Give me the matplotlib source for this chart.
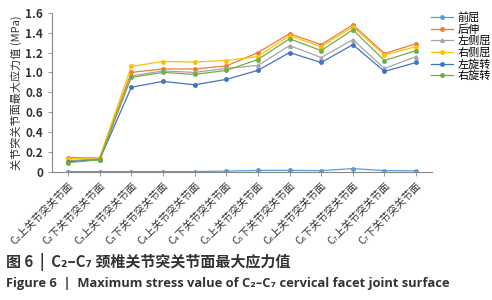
import matplotlib
matplotlib.use("Agg")
import matplotlib.pyplot as plt

plt.rcParams['font.family'] = ['Noto Sans CJK SC', 'DejaVu Sans']

# categories (facet surfaces)
levels = ["C₂", "C₂", "C₃", "C₃", "C₄", "C₄", "C₅", "C₅", "C₆", "C₆", "C₇", "C₇"]
sides = ["上", "下"] * 6
categories = [f"{c}{s}关节突关节面" for c, s in zip(levels, sides)]

# maximum stress (MPa) per motion
flexion = [0.0, 0.0, 0.0, 0.0, 0.0, 0.005, 0.012, 0.012, 0.01, 0.03, 0.01, 0.008]
extension = [0.14, 0.14, 1.00, 1.035, 1.035, 1.065, 1.20, 1.39, 1.28, 1.48, 1.19, 1.29]
left_bend = [0.11, 0.13, 0.965, 1.015, 1.00, 1.04, 1.07, 1.27, 1.15, 1.33, 1.04, 1.16]
right_bend = [0.13, 0.14, 1.06, 1.11, 1.105, 1.12, 1.16, 1.37, 1.26, 1.46, 1.175, 1.26]
left_rot = [0.10, 0.12, 0.85, 0.91, 0.875, 0.93, 1.02, 1.20, 1.10, 1.28, 1.01, 1.10]
right_rot = [0.09, 0.12, 0.95, 1.00, 0.98, 1.02, 1.13, 1.34, 1.22, 1.43, 1.12, 1.22]

series = [
    ("前屈", flexion, "#5B9BD5", "o"),
    ("后伸", extension, "#ED7D31", "o"),
    ("左侧屈", left_bend, "#A5A5A5", "^"),
    ("右侧屈", right_bend, "#FFC000", "o"),
    ("左旋转", left_rot, "#4472C4", "o"),
    ("右旋转", right_rot, "#70AD47", "o"),
]

fig = plt.figure(figsize=(4.92, 3.0), dpi=100)
ax = fig.add_axes([0.106, 0.428, 0.772, 0.529])

x = range(len(categories))
for name, vals, color, marker in series:
    ax.plot(x, vals, color=color, marker=marker, markersize=2.5, linewidth=0.9, label=name)

ax.set_xlim(-0.5, len(categories) - 0.5)
ax.set_ylim(0, 1.6)
ax.set_yticks([0, 0.2, 0.4, 0.6, 0.8, 1.0, 1.2, 1.4, 1.6])
ax.set_yticklabels(["0", "0.2", "0.4", "0.6", "0.8", "1.0", "1.2", "1.4", "1.6"],
                   fontsize=8.5, color="#333333", fontweight="bold")
ax.set_xticks(list(x))
ax.set_xticklabels(categories, rotation=45, ha="right", rotation_mode="anchor",
                   fontsize=7.5, color="#333333")
ax.tick_params(axis="both", length=3, color="#888888", width=0.6)
for s in ["top", "right"]:
    ax.spines[s].set_visible(False)
for s in ["left", "bottom"]:
    ax.spines[s].set_color("#888888")
    ax.spines[s].set_linewidth(0.8)

ax.set_ylabel("关节突关节面最大应力值 (MPa)", fontsize=8, color="#333333", labelpad=2)

ax.legend(loc="upper left", bbox_to_anchor=(0.985, 1.03), frameon=False, fontsize=8,
          handlelength=2.0, handletextpad=0.4, labelspacing=0.1, borderaxespad=0)

fig.text(0.012, 0.127, "图 6  |  C₂–C₇ 颈椎关节突关节面最大应力值", fontsize=10.8,
         color="#333333", fontweight="bold", va="center")
fig.text(0.012, 0.055, "Figure 6  |  Maximum stress value of C₂–C₇ cervical facet joint surface",
         fontsize=9.3, color="#333333", fontweight="bold", va="center",
         family=["Open Sans", "DejaVu Sans"])

fig.savefig("out.png", dpi=100)
